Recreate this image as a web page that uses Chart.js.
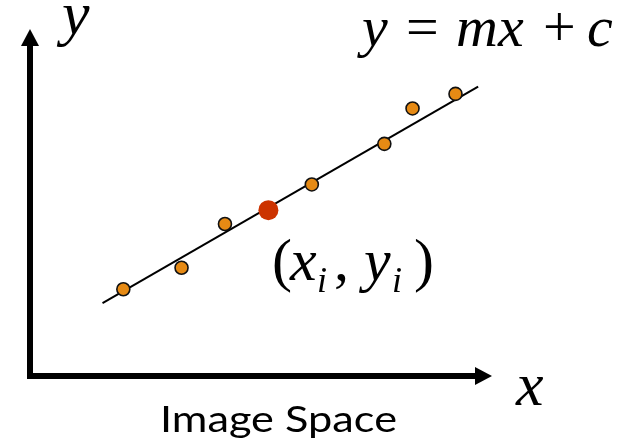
<!DOCTYPE html>
<html>
<head>
<meta charset="utf-8">
<script src="https://cdn.jsdelivr.net/npm/chart.js@4/dist/chart.umd.min.js"></script>
<style>
  body { margin: 0; background: #fff; }
  #wrap { position: relative; width: 623px; height: 445px; }
  canvas { display: block; }
  #labels { position: absolute; left: 0; top: 0; pointer-events: none; }
  #labels text { fill: #000; font-family: "Liberation Serif"; }
  #labels .i { font-style: italic; }
  #labels .cap { font-family: Lato; }
</style>
</head>
<body>
<div id="wrap">
  <canvas id="space" width="623" height="445"></canvas>
  <svg id="labels" width="623" height="445" xmlns="http://www.w3.org/2000/svg">
    <!-- axis names -->
    <text class="i" x="62" y="34" font-size="62">y</text>
    <text class="i" x="516" y="405" font-size="62">x</text>
    <!-- y = mx + c -->
    <text class="i" x="362" y="46" font-size="58">y</text>
    <text x="406" y="46" font-size="58">=</text>
    <text class="i" x="456" y="46" font-size="58">mx</text>
    <text x="543" y="46" font-size="58">+</text>
    <text class="i" x="587" y="46" font-size="58">c</text>
    <!-- (x_i, y_i) -->
    <text x="272" y="280" font-size="60">(</text>
    <text class="i" x="290" y="280" font-size="60">x</text>
    <text class="i" x="317" y="292" font-size="36">i</text>
    <text x="334" y="280" font-size="60">,</text>
    <text class="i" x="364" y="280" font-size="60">y</text>
    <text class="i" x="392" y="292" font-size="36">i</text>
    <text x="414" y="280" font-size="60">)</text>
    <!-- caption -->
    <text class="cap" x="278.5" y="432" font-size="37" text-anchor="middle"
          textLength="237" lengthAdjust="spacingAndGlyphs">Image Space</text>
  </svg>
</div>
<script>
// sample points in image space (axis units 0..10)
const pointX = [2.02, 3.28, 4.22, 6.10, 7.67, 8.28, 9.21];
const pointY = [2.50, 3.12, 4.38, 5.52, 6.69, 7.71, 8.13];
// the highlighted point (x_i, y_i)
const pickX = [5.16];
const pickY = [4.78];
// fitted line y = mx + c, end points
const lineX = [1.57, 9.70];
const lineY = [2.10, 8.34];

const toXY = (xs, ys) => xs.map((x, i) => ({ x: x, y: ys[i] }));

// arrowed axes along the left and bottom of the chart area
const arrowAxes = {
    id: 'arrowAxes',
    beforeDatasetsDraw(chart) {
        const c = chart.ctx;
        const a = chart.chartArea;
        const w = 6, head = 17, half = 9;
        c.save();
        c.fillStyle = '#000';
        // y axis
        c.fillRect(a.left - w / 2, a.top + head - 1, w, a.bottom - a.top - head + w / 2 + 1);
        c.beginPath();
        c.moveTo(a.left, a.top);
        c.lineTo(a.left + half, a.top + head);
        c.lineTo(a.left - half, a.top + head);
        c.closePath();
        c.fill();
        // x axis
        c.fillRect(a.left - w / 2, a.bottom - w / 2, a.right - a.left - head + w / 2 + 1, w);
        c.beginPath();
        c.moveTo(a.right, a.bottom);
        c.lineTo(a.right - head, a.bottom - half);
        c.lineTo(a.right - head, a.bottom + half);
        c.closePath();
        c.fill();
        c.restore();
    }
};

new Chart(document.getElementById('space'), {
    type: 'scatter',
    data: {
        datasets: [
            {
                type: 'line',
                data: toXY(lineX, lineY),
                borderColor: '#000',
                borderWidth: 2,
                pointRadius: 0,
                order: 3
            },
            {
                data: toXY(pointX, pointY),
                backgroundColor: '#E68A14',
                borderColor: '#111',
                borderWidth: 1.6,
                pointRadius: 6.5,
                order: 2
            },
            {
                data: toXY(pickX, pickY),
                backgroundColor: '#CC3300',
                borderColor: '#CC3300',
                borderWidth: 0,
                pointRadius: 10,
                order: 1
            }
        ]
    },
    options: {
        responsive: false,
        animation: false,
        layout: {
            padding: { left: 30, right: 131, top: 29, bottom: 69 }
        },
        scales: {
            x: { type: 'linear', min: 0, max: 10, display: false },
            y: { type: 'linear', min: 0, max: 10, display: false }
        },
        plugins: {
            legend: { display: false },
            tooltip: { enabled: false }
        }
    },
    plugins: [arrowAxes]
});
</script>
</body>
</html>
